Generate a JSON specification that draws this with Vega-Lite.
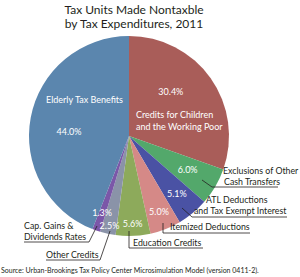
{
  "$schema": "https://vega.github.io/schema/vega-lite/v6.json",
  "width": 258,
  "height": 216,
  "autosize": {"type": "none"},
  "padding": {"left": 0, "top": 28, "right": 42, "bottom": 33},
  "background": "white",
  "config": {"view": {"stroke": null}, "font": "Lato"},
  "title": {
    "text": ["Tax Units Made Nontaxble", "by Tax Expenditures, 2011"],
    "fontSize": 12,
    "font": "Lato",
    "fontWeight": "normal",
    "color": "#231F20",
    "lineHeight": 14,
    "anchor": "middle",
    "dx": 5,
    "offset": -3
  },
  "datasets": {
    "slices": [
      {"category": "Credits for Children and the Working Poor", "share": 0.304, "ord": 1},
      {"category": "Exclusions of Other Cash Transfers", "share": 0.06, "ord": 2},
      {"category": "ATL Deductions and Tax Exempt Interest", "share": 0.051, "ord": 3},
      {"category": "Itemized Deductions", "share": 0.05, "ord": 4},
      {"category": "Education Credits", "share": 0.056, "ord": 5},
      {"category": "Other Credits", "share": 0.025, "ord": 6},
      {"category": "Cap. Gains & Dividends Rates", "share": 0.013, "ord": 7},
      {"category": "Elderly Tax Benefits", "share": 0.44, "ord": 8}
    ],
    "inside": [
      {"label": "Elderly Tax Benefits", "x": -0.83, "y": 0.36},
      {"label": "Credits for Children", "x": 0.07, "y": 0.21},
      {"label": "and the Working Poor", "x": 0.07, "y": 0.09}
    ],
    "outside": [
      {"label": "Exclusions of Other", "x": 0.94, "y": -0.35},
      {"label": "Cash Transfers", "x": 0.95, "y": -0.46},
      {"label": "ATL Deductions", "x": 0.77, "y": -0.64},
      {"label": "and Tax Exempt Interest", "x": 0.65, "y": -0.75},
      {"label": "Itemized Deductions", "x": 0.41, "y": -0.91},
      {"label": "Education Credits", "x": 0.04, "y": -1.07},
      {"label": "Cap. Gains &", "x": -1.05, "y": -0.9},
      {"label": "Dividends Rates", "x": -1.05, "y": -1.01},
      {"label": "Other Credits", "x": -0.83, "y": -1.19}
    ],
    "leaders": [
      {"id": 1, "step": 1, "x": 0.73, "y": -0.44},
      {"id": 1, "step": 2, "x": 0.83, "y": -0.51},
      {"id": 1, "step": 3, "x": 1.49, "y": -0.51},
      {"id": 2, "step": 1, "x": 0.53, "y": -0.72},
      {"id": 2, "step": 2, "x": 0.63, "y": -0.81},
      {"id": 2, "step": 3, "x": 1.58, "y": -0.81},
      {"id": 3, "step": 1, "x": 0.34, "y": -0.87},
      {"id": 3, "step": 2, "x": 0.34, "y": -0.97},
      {"id": 3, "step": 3, "x": 1.21, "y": -0.97},
      {"id": 4, "step": 1, "x": 0.0, "y": -0.95},
      {"id": 4, "step": 2, "x": 0.0, "y": -1.12},
      {"id": 4, "step": 3, "x": 0.74, "y": -1.12},
      {"id": 5, "step": 1, "x": -0.19, "y": -0.95},
      {"id": 5, "step": 2, "x": -0.29, "y": -1.24},
      {"id": 5, "step": 3, "x": -0.83, "y": -1.24},
      {"id": 6, "step": 1, "x": -0.32, "y": -0.9},
      {"id": 6, "step": 2, "x": -0.4, "y": -1.06},
      {"id": 6, "step": 3, "x": -1.05, "y": -1.06}
    ],
    "source": [
      {"label": "Source: Urban-Brookings Tax Policy Center Microsimulation Model (version 0411-2).", "x": -1.28, "y": -1.35}
    ]
  },
  "layer": [
    {
      "data": {"name": "slices"},
      "mark": {"type": "arc", "radius": 100},
      "encoding": {
        "theta": {"field": "share", "type": "quantitative", "stack": true},
        "order": {"field": "ord", "type": "quantitative"},
        "color": {
          "field": "category",
          "type": "nominal",
          "scale": {
            "domain": ["Credits for Children and the Working Poor", "Exclusions of Other Cash Transfers", "ATL Deductions and Tax Exempt Interest", "Itemized Deductions", "Education Credits", "Other Credits", "Cap. Gains & Dividends Rates", "Elderly Tax Benefits"],
            "range": ["#A95D59", "#53A86B", "#4A52A4", "#D58987", "#8DAA5B", "#8A93A8", "#7B57A8", "#5B86AE"]
          },
          "legend": null
        }
      }
    },
    {
      "data": {"name": "slices"},
      "mark": {"type": "text", "radius": 68, "fontSize": 9, "color": "white"},
      "encoding": {
        "theta": {"field": "share", "type": "quantitative", "stack": true},
        "order": {"field": "ord", "type": "quantitative"},
        "text": {"field": "share", "type": "quantitative", "format": ".1%"},
        "opacity": {"condition": {"test": "datum.ord === 2", "value": 1}, "value": 0}
      }
    },
    {
      "data": {"name": "slices"},
      "mark": {"type": "text", "radius": 75, "fontSize": 9, "color": "white"},
      "encoding": {
        "theta": {"field": "share", "type": "quantitative", "stack": true},
        "order": {"field": "ord", "type": "quantitative"},
        "text": {"field": "share", "type": "quantitative", "format": ".1%"},
        "opacity": {"condition": {"test": "datum.ord === 3", "value": 1}, "value": 0}
      }
    },
    {
      "data": {"name": "slices"},
      "mark": {"type": "text", "radius": 82, "fontSize": 9, "color": "white"},
      "encoding": {
        "theta": {"field": "share", "type": "quantitative", "stack": true},
        "order": {"field": "ord", "type": "quantitative"},
        "text": {"field": "share", "type": "quantitative", "format": ".1%"},
        "opacity": {"condition": {"test": "datum.ord === 4 || datum.ord === 7", "value": 1}, "value": 0}
      }
    },
    {
      "data": {"name": "slices"},
      "mark": {"type": "text", "radius": 88, "fontSize": 9, "color": "white"},
      "encoding": {
        "theta": {"field": "share", "type": "quantitative", "stack": true},
        "order": {"field": "ord", "type": "quantitative"},
        "text": {"field": "share", "type": "quantitative", "format": ".1%"},
        "opacity": {"condition": {"test": "datum.ord === 5", "value": 1}, "value": 0}
      }
    },
    {
      "data": {"name": "slices"},
      "mark": {"type": "text", "radius": 92, "fontSize": 9, "color": "white"},
      "encoding": {
        "theta": {"field": "share", "type": "quantitative", "stack": true},
        "order": {"field": "ord", "type": "quantitative"},
        "text": {"field": "share", "type": "quantitative", "format": ".1%"},
        "opacity": {"condition": {"test": "datum.ord === 6", "value": 1}, "value": 0}
      }
    },
    {
      "data": {"name": "slices"},
      "mark": {"type": "text", "radius": 61, "dx": -8, "dy": -9, "fontSize": 9, "color": "white"},
      "encoding": {
        "theta": {"field": "share", "type": "quantitative", "stack": true},
        "order": {"field": "ord", "type": "quantitative"},
        "text": {"field": "share", "type": "quantitative", "format": ".1%"},
        "opacity": {"condition": {"test": "datum.ord === 1", "value": 1}, "value": 0}
      }
    },
    {
      "data": {"name": "slices"},
      "mark": {"type": "text", "radius": 60, "dx": -1, "dy": 7, "fontSize": 9, "color": "white"},
      "encoding": {
        "theta": {"field": "share", "type": "quantitative", "stack": true},
        "order": {"field": "ord", "type": "quantitative"},
        "text": {"field": "share", "type": "quantitative", "format": ".1%"},
        "opacity": {"condition": {"test": "datum.ord === 8", "value": 1}, "value": 0}
      }
    },
    {
      "data": {"name": "leaders"},
      "mark": {"type": "line", "color": "#231F20", "strokeWidth": 0.8, "clip": false},
      "encoding": {
        "x": {"field": "x", "type": "quantitative", "scale": {"domain": [-1.29, 1.29], "nice": false, "zero": false}, "axis": null},
        "y": {"field": "y", "type": "quantitative", "scale": {"domain": [-1.08, 1.08], "nice": false, "zero": false}, "axis": null},
        "detail": {"field": "id", "type": "nominal"},
        "order": {"field": "step", "type": "quantitative"}
      }
    },
    {
      "data": {"name": "inside"},
      "mark": {"type": "text", "align": "left", "baseline": "middle", "fontSize": 9, "color": "white"},
      "encoding": {
        "x": {"field": "x", "type": "quantitative", "scale": {"domain": [-1.29, 1.29], "nice": false, "zero": false}, "axis": null},
        "y": {"field": "y", "type": "quantitative", "scale": {"domain": [-1.08, 1.08], "nice": false, "zero": false}, "axis": null},
        "text": {"field": "label", "type": "nominal"}
      }
    },
    {
      "data": {"name": "outside"},
      "mark": {"type": "text", "align": "left", "baseline": "middle", "fontSize": 8.8, "color": "#231F20"},
      "encoding": {
        "x": {"field": "x", "type": "quantitative", "scale": {"domain": [-1.29, 1.29], "nice": false, "zero": false}, "axis": null},
        "y": {"field": "y", "type": "quantitative", "scale": {"domain": [-1.08, 1.08], "nice": false, "zero": false}, "axis": null},
        "text": {"field": "label", "type": "nominal"}
      }
    },
    {
      "data": {"name": "source"},
      "mark": {"type": "text", "align": "left", "baseline": "middle", "fontSize": 7, "color": "#231F20"},
      "encoding": {
        "x": {"field": "x", "type": "quantitative", "scale": {"domain": [-1.29, 1.29], "nice": false, "zero": false}, "axis": null},
        "y": {"field": "y", "type": "quantitative", "scale": {"domain": [-1.08, 1.08], "nice": false, "zero": false}, "axis": null},
        "text": {"field": "label", "type": "nominal"}
      }
    }
  ]
}
